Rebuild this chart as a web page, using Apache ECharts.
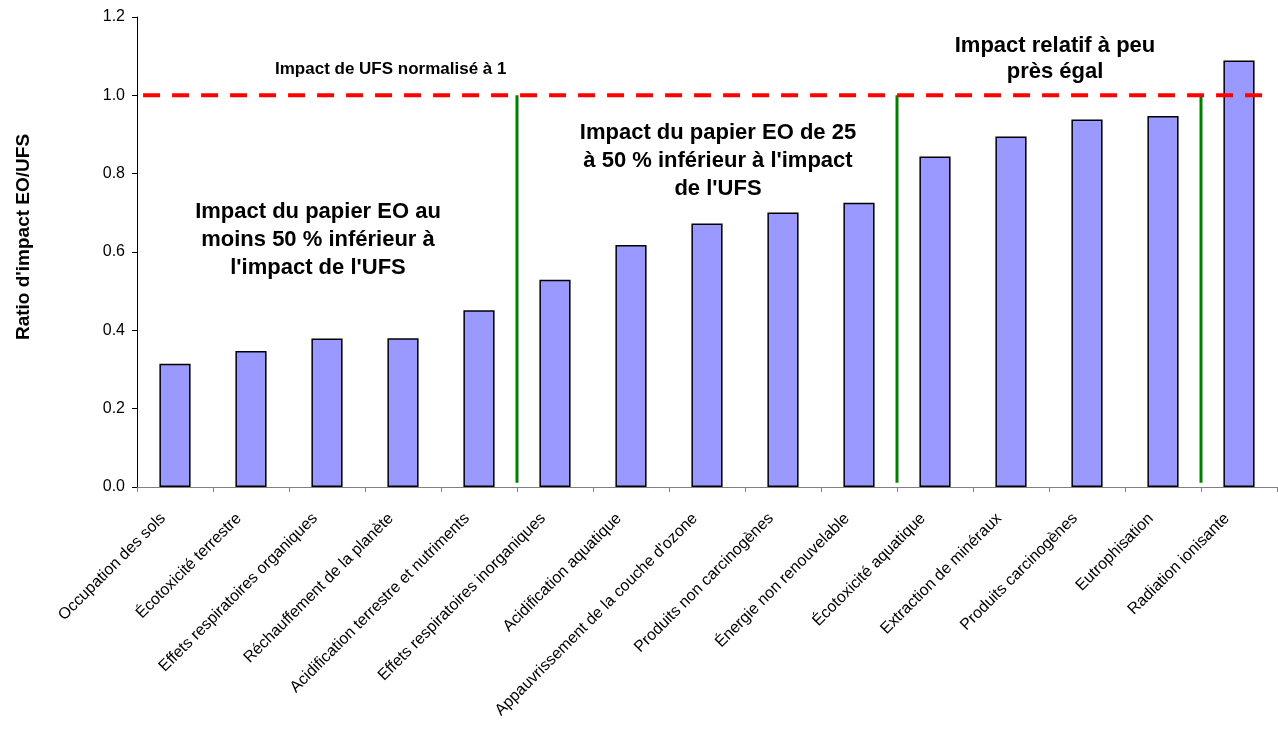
<!DOCTYPE html>
<html>
<head>
<meta charset="utf-8">
<script src="https://cdn.jsdelivr.net/npm/echarts@6/dist/echarts.min.js"></script>
<style>
  html, body { margin: 0; padding: 0; background: #fff; }
  #chart { width: 1278px; height: 734px; }
</style>
</head>
<body>
<div id="chart"></div>
<script>
// categories (impact categories)
var categories = [
    'Occupation des sols',
    'Écotoxicité terrestre',
    'Effets respiratoires organiques',
    'Réchauffement de la planète',
    'Acidification terrestre et nutriments',
    'Effets respiratoires inorganiques',
    'Acidification aquatique',
    "Appauvrissement de la couche d'ozone",
    'Produits non carcinogènes',
    'Énergie non renouvelable',
    'Écotoxicité aquatique',
    'Extraction de minéraux',
    'Produits carcinogènes',
    'Eutrophisation',
    'Radiation ionisante'
];

// ratio EO/UFS
var ratios = [0.315, 0.347, 0.379, 0.380, 0.451, 0.529, 0.618, 0.673, 0.701, 0.726, 0.844, 0.895, 0.938, 0.947, 1.089];

// groups boundaries (in category units) and reference value
var dividers = [5, 10, 14];
var dividerBottom = 0.011;
var referenceValue = 1.0;
var referenceSpan = [0.08, 14.82];

var yTicks = [0, 0.2, 0.4, 0.6, 0.8, 1.0, 1.2];

var FONT = 'Liberation Sans, Arial, sans-serif';

var myChart = echarts.init(document.getElementById('chart'));

var series = [{
    name: 'Ratio',
    type: 'bar',
    data: ratios,
    barCategoryGap: '59%',
    itemStyle: {
        color: '#9999FF',
        borderColor: '#000',
        borderWidth: 1.5
    },
    silent: true
}];

// green separators
dividers.forEach(function(d) {
    series.push({
        type: 'line',
        xAxisIndex: 1,
        symbol: 'none',
        silent: true,
        z: 3,
        data: [[d, dividerBottom], [d, referenceValue]],
        lineStyle: { color: '#008000', width: 3 }
    });
});

// red dashed reference line
series.push({
    type: 'line',
    xAxisIndex: 1,
    symbol: 'none',
    silent: true,
    z: 4,
    data: [[referenceSpan[0], referenceValue], [referenceSpan[1], referenceValue]],
    lineStyle: { color: '#FF0000', width: 4, type: [17, 12] }
});

var option = {
    animation: false,
    backgroundColor: '#fff',
    textStyle: { fontFamily: FONT },
    grid: {
        left: 137,
        right: 1,
        top: 17,
        bottom: 247,
        containLabel: false
    },
    xAxis: [{
        type: 'category',
        data: categories,
        axisLine: { lineStyle: { color: '#808080', width: 1 } },
        axisTick: { show: true, length: 5, lineStyle: { color: '#808080' } },
        axisLabel: {
            interval: 0,
            rotate: 45,
            margin: 17,
            padding: [0, 17, 0, 0],
            color: '#000',
            fontSize: 16,
            fontFamily: FONT
        },
        splitLine: { show: false }
    }, {
        type: 'value',
        min: 0,
        max: categories.length,
        show: false
    }],
    yAxis: {
        type: 'value',
        min: yTicks[0],
        max: yTicks[yTicks.length - 1],
        interval: 0.2,
        name: "Ratio d'impact EO/UFS",
        nameLocation: 'middle',
        nameGap: 104,
        nameTextStyle: {
            fontSize: 19,
            fontWeight: 'bold',
            color: '#000',
            fontFamily: FONT,
            padding: [0, 0, 0, 30]
        },
        axisLine: { show: true, lineStyle: { color: '#000', width: 1 } },
        axisTick: { show: true, length: 5, lineStyle: { color: '#000' } },
        axisLabel: {
            color: '#000',
            fontSize: 16,
            margin: 12,
            fontFamily: FONT,
            formatter: function(v) { return v.toFixed(1); }
        },
        splitLine: { show: false }
    },
    graphic: [{
        type: 'text',
        left: 275,
        top: 61,
        style: {
            text: 'Impact de UFS normalisé à 1',
            font: 'bold 17px ' + FONT,
            fill: '#000'
        }
    }, {
        type: 'text',
        x: 318,
        y: 240,
        style: {
            text: 'Impact du papier EO au\nmoins 50 % inférieur à\nl\'impact de l\'UFS',
            font: 'bold 22px ' + FONT,
            fill: '#000',
            align: 'center',
            verticalAlign: 'middle',
            lineHeight: 28
        }
    }, {
        type: 'text',
        x: 718,
        y: 161,
        style: {
            text: 'Impact du papier EO de 25\nà 50 % inférieur à l\'impact\nde l\'UFS',
            font: 'bold 22px ' + FONT,
            fill: '#000',
            align: 'center',
            verticalAlign: 'middle',
            lineHeight: 28
        }
    }, {
        type: 'text',
        x: 1055,
        y: 59,
        style: {
            text: 'Impact relatif à peu\nprès égal',
            font: 'bold 22px ' + FONT,
            fill: '#000',
            align: 'center',
            verticalAlign: 'middle',
            lineHeight: 26
        }
    }],
    series: series
};

myChart.setOption(option);
</script>
</body>
</html>
